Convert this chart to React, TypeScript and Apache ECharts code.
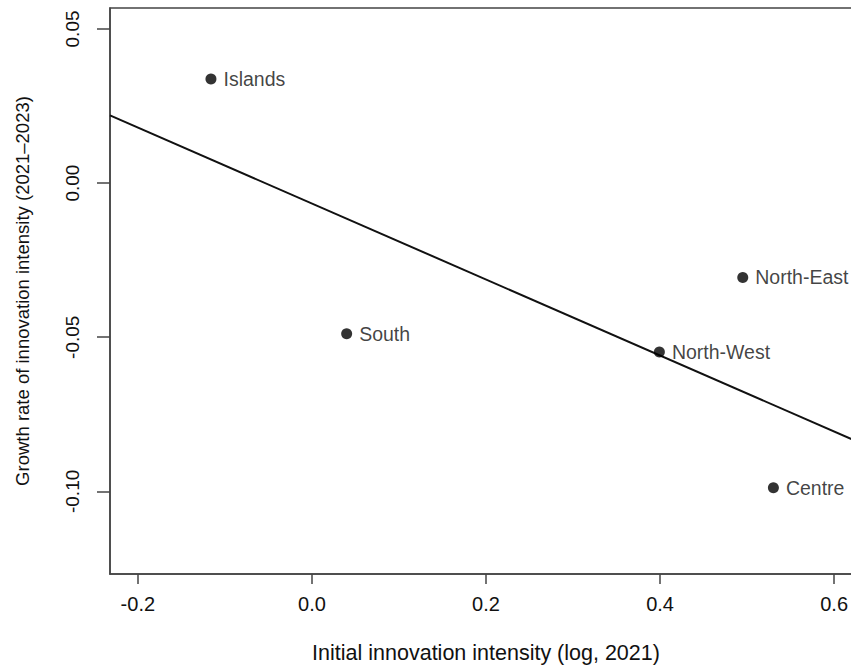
import React, { useEffect, useRef } from "react";
import * as echarts from "echarts";

const regions = ["Islands", "South", "North-West", "North-East", "Centre"];
const initialIntensity = [-0.116, 0.0399, 0.3992, 0.495, 0.5302];
const growthRate = [0.0338, -0.0489, -0.0548, -0.0306, -0.0988];
const xTicks = [-0.2, 0.0, 0.2, 0.4, 0.6];
const yTicks = [-0.1, -0.05, 0.0, 0.05];
const xLimits = [-0.232, 0.632];
const yLimits = [-0.1268, 0.0568];

function olsFit(xs: number[], ys: number[]) {
  const n = xs.length;
  const mx = xs.reduce((a, b) => a + b, 0) / n;
  const my = ys.reduce((a, b) => a + b, 0) / n;
  let sxy = 0;
  let sxx = 0;
  for (let i = 0; i < n; i++) {
    sxy += (xs[i] - mx) * (ys[i] - my);
    sxx += (xs[i] - mx) * (xs[i] - mx);
  }
  const slope = sxy / sxx;
  return { slope, intercept: my - slope * mx };
}

export default function App() {
  const ref = useRef<HTMLDivElement>(null);
  useEffect(() => {
    if (!ref.current) return;
    const chart = echarts.init(ref.current, null, { renderer: "svg" });
    const fit = olsFit(initialIntensity, growthRate);
    const lineData = xLimits.map((x) => [x, fit.intercept + fit.slope * x]);
    const font = "'Liberation Sans', Arial, Helvetica, sans-serif";
    const ink = "#111";
    const axisCol = "#444";
    chart.setOption({
      animation: false,
      backgroundColor: "#fff",
      textStyle: { fontFamily: font, color: ink },
      grid: {
        left: 110,
        top: 8,
        right: 8,
        bottom: 93,
        show: true,
        borderColor: axisCol,
        borderWidth: 1.5,
        containLabel: false,
      },
      xAxis: {
        type: "value",
        min: xLimits[0],
        max: xLimits[1],
        name: "Initial innovation intensity (log, 2021)",
        nameLocation: "middle",
        nameGap: 68,
        nameTextStyle: { fontFamily: font, fontSize: 21.5, color: ink },
        splitLine: { show: false },
        axisLine: { show: true, onZero: false, lineStyle: { color: axisCol, width: 1.5 } },
        axisTick: {
          show: true,
          length: 10,
          customValues: xTicks,
          lineStyle: { color: axisCol, width: 1.5 },
        },
        axisLabel: {
          customValues: xTicks,
          margin: 20,
          fontFamily: font,
          fontSize: 20,
          color: ink,
          formatter: (v: number) => v.toFixed(1),
        },
      },
      yAxis: {
        type: "value",
        min: yLimits[0],
        max: yLimits[1],
        name: "Growth rate of innovation intensity (2021\u20132023)",
        nameLocation: "middle",
        nameRotate: 90,
        nameGap: 78,
        nameTextStyle: { fontFamily: font, fontSize: 18.5, color: ink },
        splitLine: { show: false },
        axisLine: { show: true, onZero: false, lineStyle: { color: axisCol, width: 1.5 } },
        axisTick: {
          show: true,
          length: 13,
          customValues: yTicks,
          lineStyle: { color: axisCol, width: 1.5 },
        },
        axisLabel: {
          customValues: yTicks,
          rotate: 90,
          margin: 28,
          fontFamily: font,
          fontSize: 19,
          color: ink,
          formatter: (v: number) => v.toFixed(2),
        },
      },
      series: [
        {
          type: "line",
          data: lineData,
          symbol: "none",
          clip: true,
          lineStyle: { color: "#111", width: 2 },
          z: 2,
        },
        {
          type: "scatter",
          data: initialIntensity.map((x, i) => ({
            value: [x, growthRate[i]],
            name: regions[i],
          })),
          symbol: "circle",
          symbolSize: 11,
          itemStyle: { color: "#000" },
          label: {
            show: true,
            position: "right",
            distance: 7,
            formatter: (p: any) => p.name,
            fontFamily: font,
            fontSize: 19.5,
            color: ink,
          },
          z: 3,
        },
      ],
    });
    return () => chart.dispose();
  }, []);
  return (
    <div
      style={{
        position: "absolute",
        left: 0,
        top: 0,
        width: 851,
        height: 669,
        overflow: "hidden",
        background: "#fff",
      }}
    >
      <div ref={ref} style={{ width: 870, height: 669 }} />
    </div>
  );
}
